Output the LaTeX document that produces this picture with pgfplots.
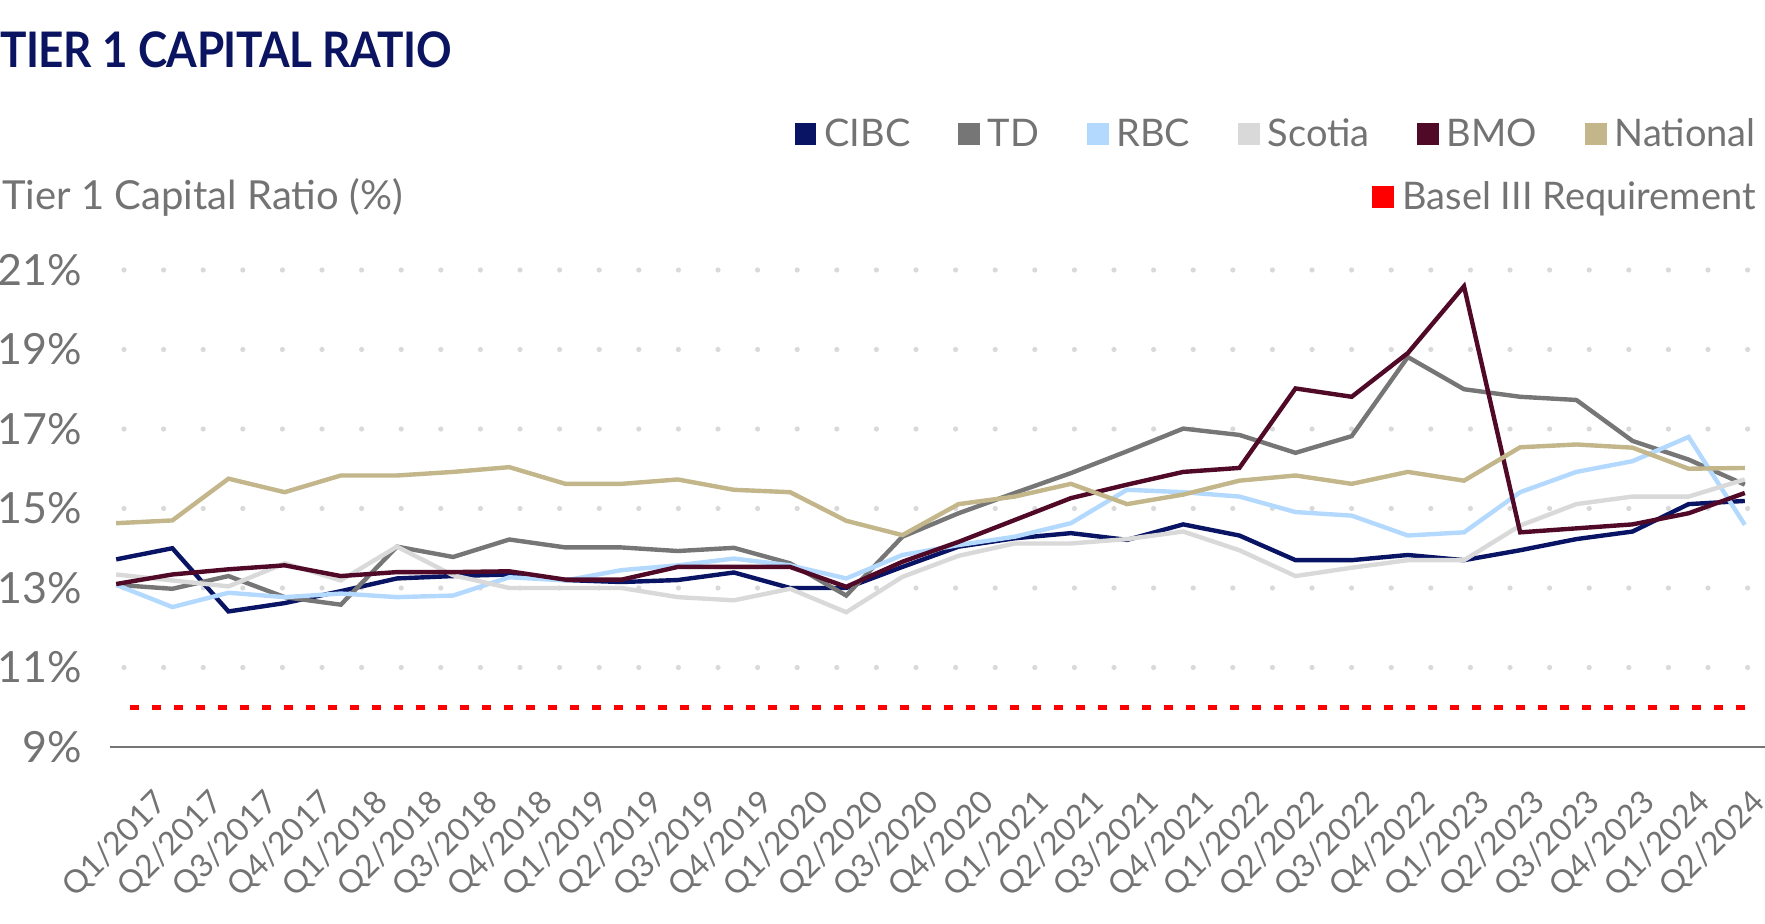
\documentclass[border=0pt]{standalone}
\usepackage{pgfplots}
\usepackage{pgfplotstable}
\pgfplotsset{compat=1.18}
\usepackage{fontspec}
\setmainfont{Lato}
\newfontfamily\titlefont{Lato}[FakeStretch=0.9, LetterSpace=-1]
\definecolor{cibc}{HTML}{0A1464}
\definecolor{td}{HTML}{767676}
\definecolor{rbc}{HTML}{B3D9FF}
\definecolor{scotia}{HTML}{D9D9D9}
\definecolor{bmo}{HTML}{500A28}
\definecolor{natl}{HTML}{C2B68A}
\definecolor{txtgray}{HTML}{737373}
\definecolor{gridgray}{HTML}{D9D9D9}
\definecolor{navy}{HTML}{0B1460}
\definecolor{baselred}{HTML}{FF0000}

\pgfplotstableread{
idx cibc td rbc scotia bmo natl
0 13.72 13.08 13.08 13.34 13.10 14.63
1 14.00 12.98 12.52 13.19 13.34 14.70
2 12.41 13.30 12.88 13.04 13.47 15.75
3 12.62 12.77 12.77 13.62 13.57 15.41
4 12.92 12.58 12.86 13.19 13.30 15.83
5 13.24 14.04 12.77 14.04 13.40 15.83
6 13.30 13.78 12.81 13.32 13.40 15.92
7 13.34 14.22 13.27 13.00 13.42 16.04
8 13.20 14.02 13.19 13.00 13.21 15.62
9 13.15 14.02 13.45 13.00 13.21 15.62
10 13.20 13.93 13.57 12.77 13.53 15.73
11 13.39 14.01 13.74 12.69 13.53 15.47
12 13.00 13.62 13.57 12.98 13.53 15.41
13 13.00 12.81 13.24 12.39 13.03 14.69
14 13.53 14.29 13.83 13.28 13.66 14.33
15 14.04 14.88 14.08 13.81 14.16 15.11
16 14.25 15.39 14.29 14.12 14.71 15.30
17 14.38 15.89 14.63 14.12 15.26 15.62
18 14.21 16.44 15.47 14.23 15.60 15.11
19 14.60 17.01 15.41 14.42 15.92 15.35
20 14.32 16.85 15.30 13.95 16.02 15.70
21 13.70 16.40 14.91 13.30 18.02 15.83
22 13.70 16.82 14.82 13.51 17.81 15.62
23 13.83 18.81 14.32 13.70 18.91 15.92
24 13.70 18.00 14.40 13.70 20.59 15.70
25 13.95 17.81 15.41 14.57 14.40 16.54
26 14.23 17.73 15.92 15.11 14.50 16.61
27 14.42 16.70 16.19 15.30 14.60 16.53
28 15.11 16.23 16.80 15.30 14.88 16.00
29 15.19 15.60 14.59 15.73 15.39 16.02
}\datatable

\pgfplotsset{
  commonaxis/.style={
    at={(55pt,88.5pt)}, anchor=south west, scale only axis,
    width=827.5pt, height=238.5pt,
    xmin=-0.11, xmax=29.36, ymin=9, ymax=21, clip=false,
  },
  mylegend/.style={
    legend style={draw=none, fill=none, inner sep=0pt, anchor=east,
      font=\fontsize{19}{22}\selectfont, text=txtgray,
      /tikz/every even column/.append style={column sep=22pt}},
    legend image code/.code={\fill[##1] (0pt,-4.25pt) rectangle (8.5pt,4.25pt); \path (10.5pt,0pt);},
  },
}

\begin{document}
\begin{tikzpicture}
\path[use as bounding box] (0,0) rectangle (882.5pt,462pt);
\node[anchor=west, inner sep=0pt, text=navy, font=\fontsize{24.5}{28}\titlefont\bfseries] at (0pt,437pt) {TIER 1 CAPITAL RATIO};
\node[anchor=west, inner sep=0pt, text=txtgray, font=\fontsize{20}{23}\selectfont] at (1pt,363.5pt) {Tier 1 Capital Ratio (\%)};
\begin{axis}[
  commonaxis, mylegend,
  legend columns=6,
  legend style={at={(0.997,1.285)}},
  axis x line=bottom, axis y line=left,
  x axis line style={draw=td, line width=1.4pt, -},
  y axis line style={draw=none},
  tick style={draw=none},
  ytick={11,13,...,21},
  extra y ticks={9},
  extra y tick style={grid=none},
  yticklabel={\pgfmathprintnumber{\tick}\%},
  /pgf/number format/assume math mode=true,
  yticklabel style={anchor=east, inner sep=0pt, xshift=-11.7pt, text=txtgray, font=\fontsize{21.5}{24}\selectfont},
  ymajorgrids,
  grid style={gridgray, line width=2.6pt, line cap=round, dash pattern=on 0pt off 19.8pt, dash phase=12.8pt},
  xtick={0.0,0.981,...,28.5},
  xticklabels={Q1/2017,Q2/2017,Q3/2017,Q4/2017,Q1/2018,Q2/2018,Q3/2018,Q4/2018,Q1/2019,Q2/2019,Q3/2019,Q4/2019,Q1/2020,Q2/2020,Q3/2020,Q4/2020,Q1/2021,Q2/2021,Q3/2021,Q4/2021,Q1/2022,Q2/2022,Q3/2022,Q4/2022,Q1/2023,Q2/2023,Q3/2023,Q4/2023,Q1/2024,Q2/2024},
  xticklabel style={rotate=45, anchor=north east, inner sep=0pt, yshift=-25.6pt, text=txtgray, font=\fontsize{16}{19}\selectfont},
  no markers,
]
\addplot[baselred, line width=2.6pt, dash pattern=on 4.5pt off 6.5pt, forget plot] coordinates {(0.25,10) (29,10)};
\addplot[cibc, line width=2.2pt] table[x=idx, y=cibc] {\datatable};
\addplot[td, line width=2.2pt] table[x=idx, y=td] {\datatable};
\addplot[rbc, line width=2.2pt] table[x=idx, y=rbc] {\datatable};
\addplot[scotia, line width=2.2pt] table[x=idx, y=scotia] {\datatable};
\addplot[bmo, line width=2.2pt] table[x=idx, y=bmo] {\datatable};
\addplot[natl, line width=2.2pt] table[x=idx, y=natl] {\datatable};
\legend{CIBC,TD,RBC,Scotia,BMO,National}
\end{axis}
\begin{axis}[
  commonaxis, mylegend, hide axis,
  legend style={at={(0.997,1.153)}},
]
\addlegendimage{baselred, line width=2.6pt}
\addlegendentry{Basel III Requirement}
\end{axis}
\end{tikzpicture}
\end{document}
